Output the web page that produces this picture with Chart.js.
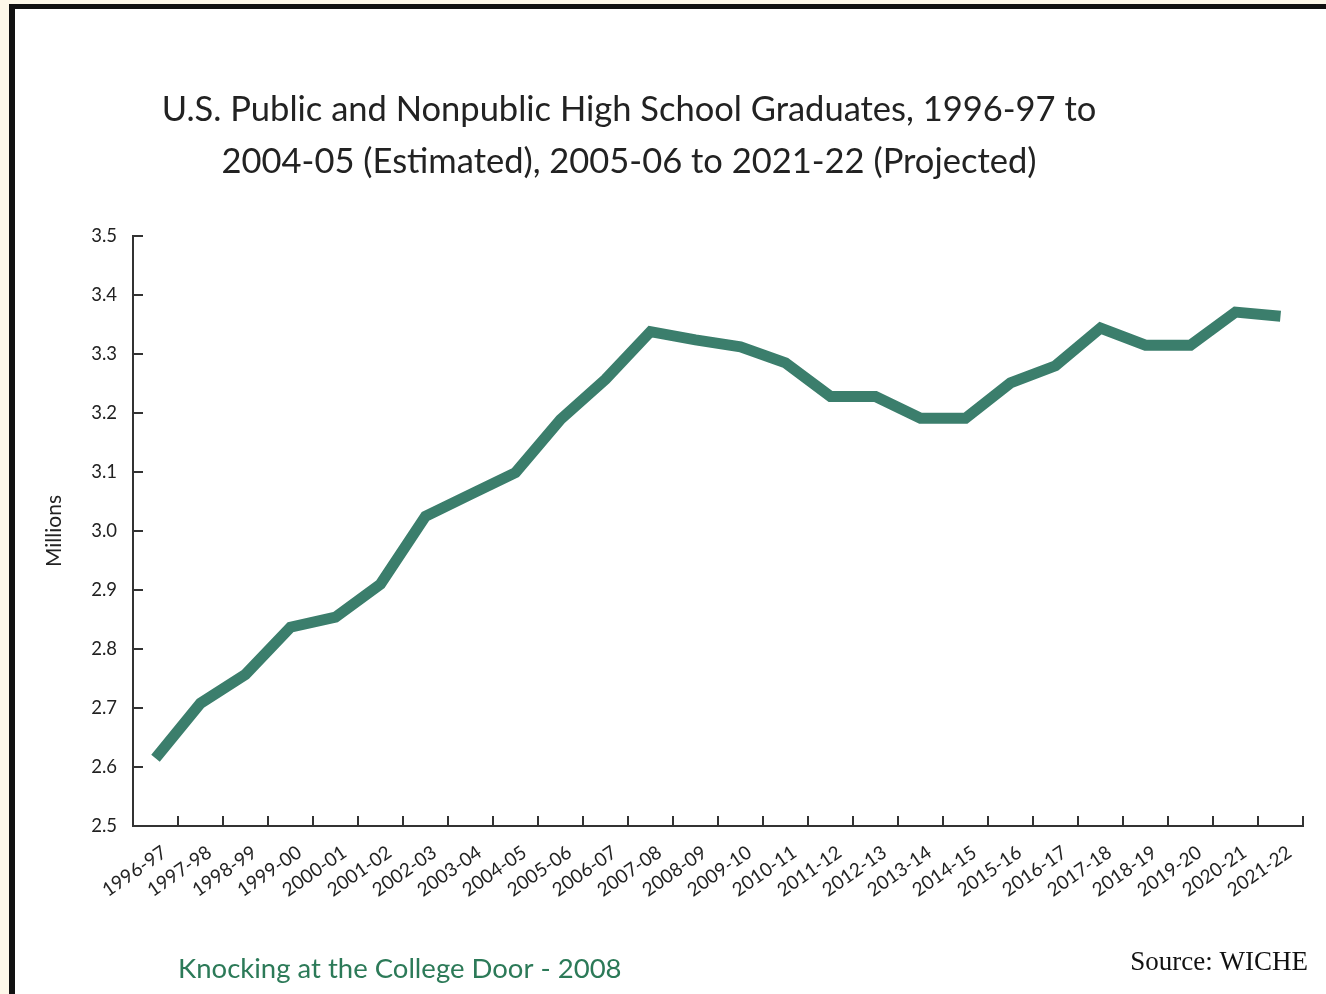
<!DOCTYPE html>
<html>
<head>
<meta charset="utf-8">
<script src="https://cdn.jsdelivr.net/npm/chart.js@4.4.1/dist/chart.umd.min.js"></script>
<style>
    html, body {
        margin: 0;
        padding: 0;
        background: #fdf8e9;
        overflow: hidden;
    }
    .frame {
        position: absolute;
        left: 9px;
        top: 4px;
        width: 1340px;
        height: 1010px;
        background: #ffffff;
        border-left: 6px solid #111;
        border-top: 5px solid #111;
    }
    .chart-wrap {
        position: absolute;
        left: 0;
        top: 0;
        width: 1326px;
        height: 994px;
    }
</style>
</head>
<body>
<div class="frame"></div>
<div class="chart-wrap"><canvas id="gradChart"></canvas></div>
<script>
    const years = [
        '1996-97', '1997-98', '1998-99', '1999-00', '2000-01', '2001-02', '2002-03',
        '2003-04', '2004-05', '2005-06', '2006-07', '2007-08', '2008-09', '2009-10',
        '2010-11', '2011-12', '2012-13', '2013-14', '2014-15', '2015-16', '2016-17',
        '2017-18', '2018-19', '2019-20', '2020-21', '2021-22'
    ];
    // graduates, millions
    const graduates = [
        2.615, 2.708, 2.757, 2.837, 2.854, 2.910, 3.025,
        3.062, 3.099, 3.189, 3.257, 3.338, 3.324, 3.312,
        3.285, 3.228, 3.228, 3.191, 3.191, 3.251, 3.280,
        3.344, 3.315, 3.315, 3.371, 3.364
    ];
    const yTicks = [2.5, 2.6, 2.7, 2.8, 2.9, 3.0, 3.1, 3.2, 3.3, 3.4, 3.5];
    const titleLines = [
        'U.S. Public and Nonpublic High School Graduates, 1996-97 to',
        '2004-05 (Estimated), 2005-06 to 2021-22 (Projected)'
    ];
    const footLeft = 'Knocking at the College Door - 2008';
    const footRight = 'Source: WICHE';

    const lineColor = '#3b7e6c';
    const axisColor = '#333333';
    const fontFamily = 'Lato, "Open Sans", sans-serif';

    // title, footers and the inward tick marks of the original
    const decorations = {
        id: 'decorations',
        afterDraw(chart) {
            const ctx = chart.ctx;
            const area = chart.chartArea;
            const x = chart.scales.x;
            const y = chart.scales.y;
            const len = 10;
            ctx.save();
            ctx.strokeStyle = axisColor;
            ctx.lineWidth = 2;
            ctx.beginPath();
            y.ticks.forEach((t, i) => {
                const py = Math.round(y.getPixelForTick(i));
                ctx.moveTo(area.left, py);
                ctx.lineTo(area.left + len, py);
            });
            const half = (x.getPixelForTick(1) - x.getPixelForTick(0)) / 2;
            years.forEach((_, i) => {
                const px = Math.round(x.getPixelForTick(i) + half);
                ctx.moveTo(px, area.bottom);
                ctx.lineTo(px, area.bottom - len);
            });
            ctx.stroke();

            ctx.fillStyle = '#222';
            ctx.font = '34.5px ' + fontFamily;
            ctx.textAlign = 'center';
            ctx.textBaseline = 'middle';
            titleLines.forEach((line, i) => {
                ctx.fillText(line, 629, 110 + i * 52);
            });

            ctx.textBaseline = 'alphabetic';
            ctx.fillStyle = '#2c7a58';
            ctx.font = '27.5px ' + fontFamily;
            ctx.textAlign = 'left';
            ctx.fillText(footLeft, 178, 978);
            ctx.fillStyle = '#111';
            ctx.font = '27px "Liberation Serif", "Times New Roman", serif';
            ctx.textAlign = 'right';
            ctx.fillText(footRight, 1308, 970);
            ctx.restore();
        }
    };

    new Chart(document.getElementById('gradChart'), {
        type: 'line',
        data: {
            labels: years,
            datasets: [{
                label: 'Graduates',
                data: graduates,
                borderColor: lineColor,
                backgroundColor: lineColor,
                borderWidth: 11,
                borderJoinStyle: 'miter',
                borderCapStyle: 'butt',
                pointRadius: 0,
                tension: 0,
                fill: false
            }]
        },
        options: {
            responsive: true,
            maintainAspectRatio: false,
            animation: false,
            layout: { padding: { left: 42, right: 23, top: 236, bottom: 88 } },
            scales: {
                x: {
                    type: 'category',
                    offset: true,
                    grid: { display: false, offset: true, drawTicks: false },
                    border: { display: true, color: axisColor, width: 2 },
                    ticks: {
                        color: '#222',
                        font: { family: fontFamily, size: 19 },
                        minRotation: 35,
                        maxRotation: 35,
                        autoSkip: false,
                        padding: 15,
                        labelOffset: 9
                    },
                    afterFit: function (scale) {
                        scale.height = 80;
                    }
                },
                y: {
                    min: 2.5,
                    max: 3.5,
                    afterBuildTicks: function (scale) {
                        scale.ticks = yTicks.map(v => ({ value: v }));
                    },
                    grid: { display: false, drawTicks: false },
                    border: { display: true, color: axisColor, width: 2 },
                    ticks: {
                        color: '#222',
                        font: { family: fontFamily, size: 18.5 },
                        padding: 16,
                        callback: function (value) {
                            return Number(value).toFixed(1);
                        }
                    },
                    title: {
                        display: true,
                        text: 'Millions',
                        color: '#222',
                        font: { family: fontFamily, size: 21 },
                        padding: { top: 0, bottom: 10 }
                    },
                    afterFit: function (scale) {
                        scale.width = 91;
                    }
                }
            },
            plugins: {
                legend: { display: false },
                tooltip: { enabled: false },
                title: { display: false }
            }
        },
        plugins: [decorations]
    });
</script>
</body>
</html>
